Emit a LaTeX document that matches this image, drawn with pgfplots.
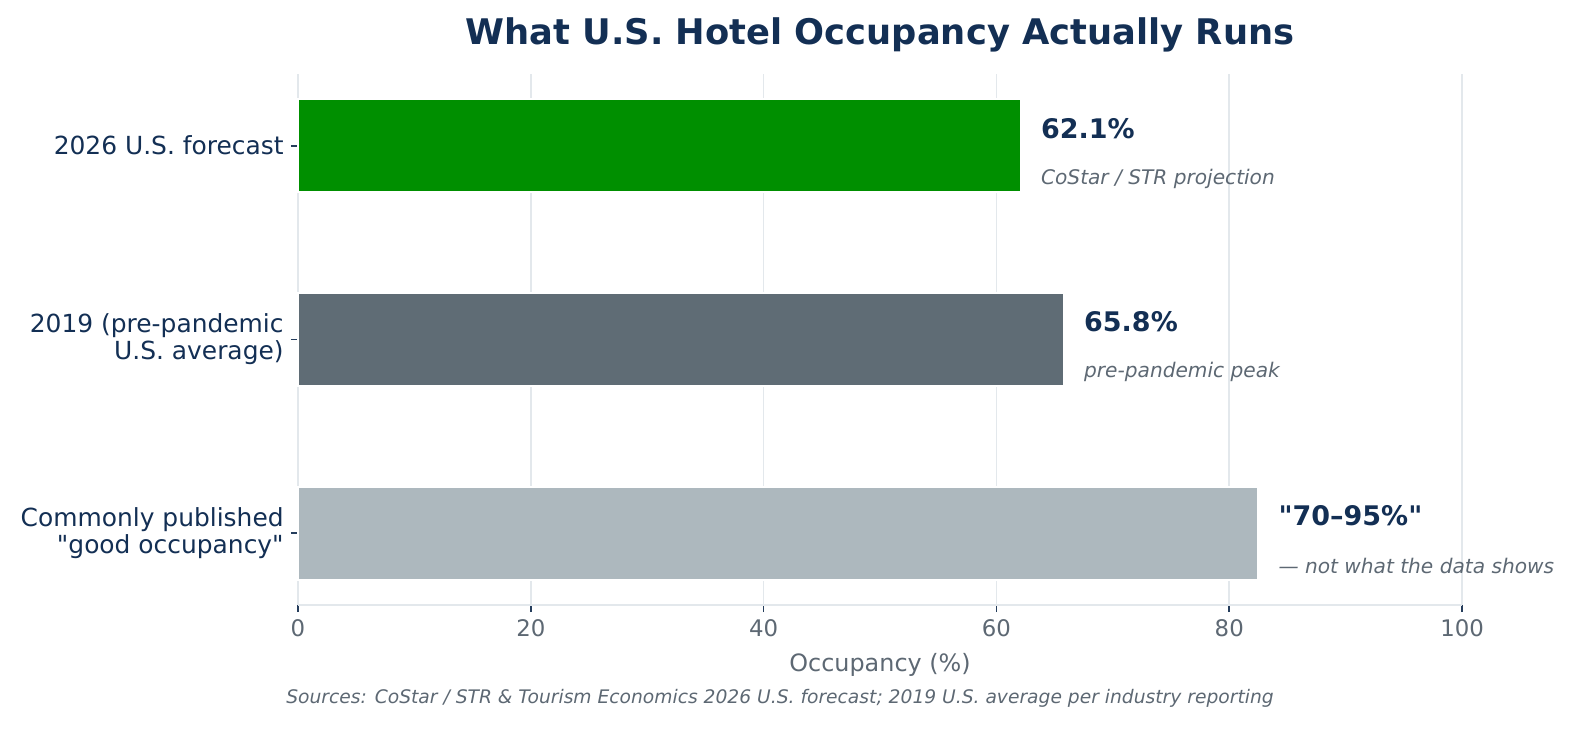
\documentclass[border=0pt]{standalone}
\usepackage{fontspec}
\setmainfont{DejaVu Sans}[Ligatures=TeXOff]
\usepackage{pgfplots}
\pgfplotsset{compat=1.18}
\definecolor{navy}{HTML}{132F54}
\definecolor{txtgray}{HTML}{5D6873}
\definecolor{gridc}{HTML}{E3E8EC}
\definecolor{bargreen}{HTML}{008F00}
\definecolor{bardark}{HTML}{5F6C75}
\definecolor{barlight}{HTML}{ADB8BE}
\begin{document}
\begin{tikzpicture}[x=0.48bp,y=0.48bp]
\path[use as bounding box] (0,0) rectangle (1575,729);
\begin{axis}[
    at={(143.04bp,59.52bp)}, anchor=south west,
    scale only axis,
    width=558.72bp, height=254.88bp,
    xmin=0, xmax=100,
    ymin=-0.37, ymax=2.37,
    xtick={0,20,40,60,80,100},
    ytick={0,1,2},
    yticklabels={{Commonly published\\"good occupancy"},{2019 (pre-pandemic\\U.S. average)},{2026 U.S. forecast}},
    axis x line*=bottom, axis y line*=left,
    axis line style={draw=gridc, line width=0.8pt},
    xmajorgrids,
    major grid style={draw=gridc, line width=0.8pt},
    tick align=outside,
    major tick length=3.4pt,
    tick style={draw=navy!75!txtgray, line width=0.8pt},
    xticklabel style={font=\fontsize{11}{13}\selectfont, text=txtgray},
    yticklabel style={font=\fontsize{12}{13}\selectfont, text=navy, align=right},
    tick label style={/pgf/number format/assume math mode=true},
    xbar, bar width=0.48, bar shift=0pt,
    clip=false,
]
\addplot[fill=barlight, draw=white, line width=1pt] coordinates {(82.5,0)};
\addplot[fill=bardark, draw=white, line width=1pt] coordinates {(65.8,1)};
\addplot[fill=bargreen, draw=white, line width=1pt] coordinates {(62.1,2)};

\node[anchor=west, inner sep=0, text=navy, font=\fontsize{13}{15}\selectfont\bfseries] at (axis cs:63.8,2.09) {62.1\%};
\node[anchor=west, inner sep=0, text=txtgray, font=\fontsize{9.7}{12}\selectfont\itshape] at (axis cs:63.8,1.83) {CoStar / STR projection};
\node[anchor=west, inner sep=0, text=navy, font=\fontsize{13}{15}\selectfont\bfseries] at (axis cs:67.5,1.09) {65.8\%};
\node[anchor=west, inner sep=0, text=txtgray, font=\fontsize{9.7}{12}\selectfont\itshape] at (axis cs:67.5,0.83) {pre-pandemic peak};
\node[anchor=west, inner sep=0, text=navy, font=\fontsize{13}{15}\selectfont\bfseries] at (axis cs:84.2,0.09) {"70–95\%"};
\node[anchor=west, inner sep=0, text=txtgray, font=\fontsize{9.7}{12}\selectfont\itshape] at (axis cs:84.2,-0.17) {— not what the data shows};
\end{axis}
\node[text=navy, font=\fontsize{17}{20}\selectfont\bfseries] at (880,694) {What U.S. Hotel Occupancy Actually Runs};
\node[text=txtgray, font=\fontsize{11.5}{14}\selectfont] at (880,64) {Occupancy (\%)};
\node[text=txtgray, font=\fontsize{9}{11}\selectfont\itshape] at (780,31) {Sources: CoStar / STR \& Tourism Economics 2026 U.S. forecast; 2019 U.S. average per industry reporting};
\end{tikzpicture}
\end{document}
